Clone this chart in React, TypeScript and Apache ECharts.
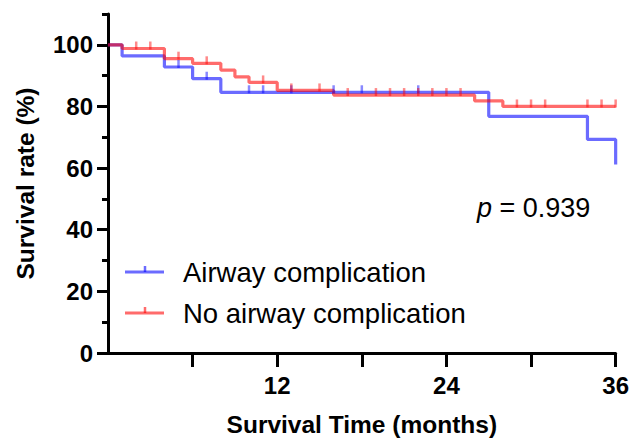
import React, { useEffect, useRef } from "react";
import * as echarts from "echarts";

// ---- data ----
const xTickValues = [6, 12, 18, 24, 30, 36];
const xLabelValues = [12, 24, 36];
const yLabelValues = [0, 20, 40, 60, 80, 100];

// Airway complication (blue): step times and survival levels
const airwayTimes = [0, 1, 4, 6, 8, 27, 34, 36];
const airwaySurv = [100, 96.4, 92.8, 89.0, 84.6, 76.8, 69.3, 61.2];
const airwayCensored = [5, 7, 10, 11, 13, 16, 18, 22];

// No airway complication (red)
const noAirwayTimes = [0, 1, 4, 6, 8, 9, 10, 12, 16, 26, 28, 36];
const noAirwaySurv = [100, 98.8, 95.5, 94.0, 91.8, 89.6, 87.8, 85.2, 83.7, 81.8, 80.0, 80.0];
const noAirwayCensored = [2, 3, 5, 7, 11, 13, 15, 17, 19, 20, 21, 22, 23, 24, 25, 29, 30, 31, 34, 35, 36];

const pText = "0.939";
const FONT = "'Liberation Sans', Arial, Helvetica, sans-serif";
const BLUE = "rgba(0,0,255,0.58)";
const RED = "rgba(255,0,0,0.58)";

function levelAt(t: number, times: number[], surv: number[]) {
  let v = surv[0];
  for (let i = 0; i < times.length; i++) if (times[i] <= t) v = surv[i];
  return v;
}

export default function App() {
  const ref = useRef<HTMLDivElement>(null);
  useEffect(() => {
    if (!ref.current) return;
    const chart = echarts.init(ref.current, undefined, { renderer: "svg" });
    const tickStyle = { color: "#000", width: 3 };
    chart.setOption({
      animation: false,
      backgroundColor: "#fff",
      grid: { left: 108, right: 14, top: 14, bottom: 87 },
      xAxis: {
        type: "value",
        min: 0,
        max: 36,
        interval: 6,
        axisLine: { show: true, onZero: false, lineStyle: { color: "#000", width: 3 } },
        axisTick: { show: true, length: 14, lineStyle: tickStyle, customValues: xTickValues },
        axisLabel: {
          customValues: xLabelValues,
          fontSize: 24,
          fontWeight: "bold",
          color: "#000",
          fontFamily: FONT,
          margin: 20,
        },
        splitLine: { show: false },
        name: "Survival Time (months)",
        nameLocation: "middle",
        nameGap: 59,
        nameTextStyle: { fontSize: 24.5, fontWeight: "bold", color: "#000", fontFamily: FONT },
      },
      yAxis: [
        {
          type: "value",
          min: 0,
          max: 110,
          interval: 10,
          position: "left",
          axisLine: { show: true, onZero: false, lineStyle: { color: "#000", width: 3 } },
          axisTick: { show: true, length: 6, lineStyle: tickStyle },
          axisLabel: { show: false },
          splitLine: { show: false },
        },
        {
          type: "value",
          min: 0,
          max: 110,
          interval: 20,
          position: "left",
          axisLine: { show: false },
          axisTick: { show: true, length: 11, lineStyle: tickStyle, customValues: yLabelValues },
          axisLabel: {
            customValues: yLabelValues,
            fontSize: 24,
            fontWeight: "bold",
            color: "#000",
            fontFamily: FONT,
            margin: 15,
          },
          splitLine: { show: false },
          name: "Survival rate (%)",
          nameLocation: "middle",
          nameGap: 70,
          nameTextStyle: { fontSize: 24.5, fontWeight: "bold", color: "#000", fontFamily: FONT },
        },
      ],
      series: [
        {
          name: "Airway complication",
          type: "line",
          step: "end",
          symbol: "none",
          data: airwayTimes.map((t, i) => [t, airwaySurv[i]]),
          lineStyle: { color: BLUE, width: 3.2 },
          z: 2,
        },
        {
          name: "No airway complication",
          type: "line",
          step: "end",
          symbol: "none",
          data: noAirwayTimes.map((t, i) => [t, noAirwaySurv[i]]),
          lineStyle: { color: RED, width: 3.2 },
          z: 3,
        },
        {
          name: "Airway censored",
          type: "scatter",
          symbol: "rect",
          symbolSize: [2.5, 8],
          symbolOffset: [0, -3],
          data: airwayCensored.map((t) => [t, levelAt(t, airwayTimes, airwaySurv)]),
          itemStyle: { color: BLUE },
          z: 4,
        },
        {
          name: "No airway censored",
          type: "scatter",
          symbol: "rect",
          symbolSize: [2.5, 8],
          symbolOffset: [0, -3],
          data: noAirwayCensored.map((t) => [t, levelAt(t, noAirwayTimes, noAirwaySurv)]),
          itemStyle: { color: RED },
          z: 5,
        },
      ],
      graphic: [
        { type: "line", shape: { x1: 125, y1: 272, x2: 164, y2: 272 }, style: { stroke: BLUE, lineWidth: 3.2 } },
        { type: "line", shape: { x1: 145, y1: 266, x2: 145, y2: 272 }, style: { stroke: BLUE, lineWidth: 2.5 } },
        {
          type: "text",
          x: 183,
          y: 272,
          style: { text: "Airway complication", fontSize: 27.5, fontFamily: FONT, fill: "#000", verticalAlign: "middle" },
        },
        { type: "line", shape: { x1: 125, y1: 313, x2: 164, y2: 313 }, style: { stroke: RED, lineWidth: 3.2 } },
        { type: "line", shape: { x1: 145, y1: 307, x2: 145, y2: 313 }, style: { stroke: RED, lineWidth: 2.5 } },
        {
          type: "text",
          x: 183,
          y: 313,
          style: { text: "No airway complication", fontSize: 27.5, fontFamily: FONT, fill: "#000", verticalAlign: "middle" },
        },
        {
          type: "text",
          x: 477,
          y: 208,
          style: {
            text: "{i|p} = " + pText,
            fontSize: 27,
            fontFamily: FONT,
            fill: "#000",
            verticalAlign: "middle",
            rich: { i: { fontStyle: "italic", fontSize: 27, fontFamily: FONT, fill: "#000" } },
          },
        },
      ],
    });
    return () => chart.dispose();
  }, []);
  return (
    <div
      ref={ref}
      style={{ position: "fixed", left: 0, top: 0, width: 632, height: 442, background: "#fff" }}
    />
  );
}
